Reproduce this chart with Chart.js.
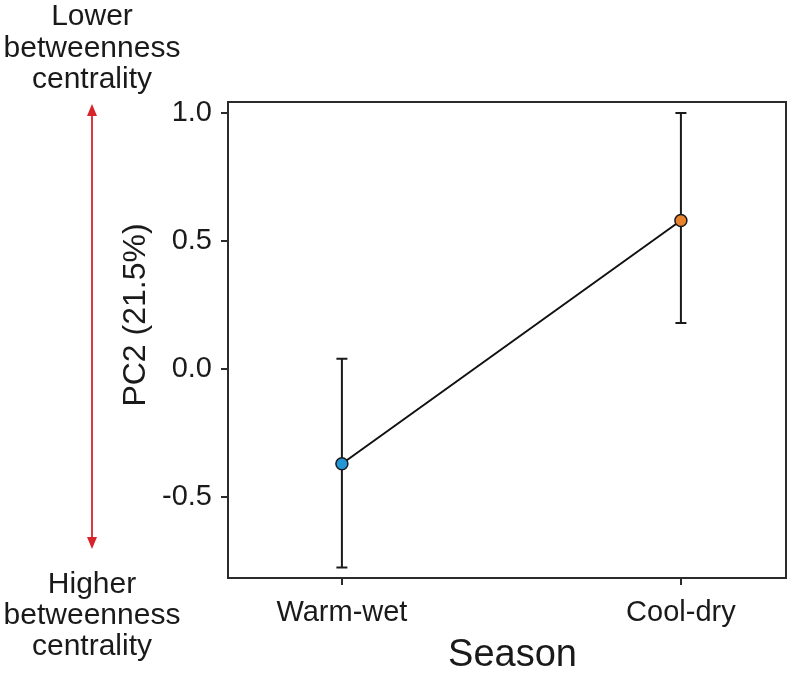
<!DOCTYPE html>
<html>
<head>
<meta charset="utf-8">
<script src="https://cdn.jsdelivr.net/npm/chart.js@4"></script>
<style>
html,body{margin:0;padding:0;background:#fff;}
#wrap{width:800px;height:673px;}
</style>
</head>
<body>
<div id="wrap"><canvas id="c" width="800" height="673"></canvas></div>
<script>
const categories = ['Warm-wet', 'Cool-dry'];
const xPositions = [1, 2];
const meanValues = [-0.37, 0.58];
const lowerValues = [-0.775, 0.18];
const upperValues = [0.04, 1.0];
const pointColors = ['#2496d8', '#e8822c'];
const yTickValues = [-0.5, 0.0, 0.5, 1.0];
const yTitle = 'PC2 (21.5%)';
const xTitle = 'Season';
const topNote = ['Lower', 'betweenness', 'centrality'];
const bottomNote = ['Higher', 'betweenness', 'centrality'];

const FONT = '"Liberation Sans", Arial, Helvetica, sans-serif';
const TXT = '#1a1a1a';

const overlay = {
  id: 'overlay',
  beforeDatasetsDraw(chart) {
    const { ctx, scales: { x, y } } = chart;
    ctx.save();
    ctx.strokeStyle = '#1a1a1a';
    ctx.lineWidth = 2;
    xPositions.forEach((xv, i) => {
      const px = x.getPixelForValue(xv);
      const t = y.getPixelForValue(upperValues[i]);
      const b = y.getPixelForValue(lowerValues[i]);
      ctx.beginPath();
      ctx.moveTo(px, t); ctx.lineTo(px, b);
      ctx.moveTo(px - 5.5, t); ctx.lineTo(px + 5.5, t);
      ctx.moveTo(px - 5.5, b); ctx.lineTo(px + 5.5, b);
      ctx.stroke();
    });
    ctx.restore();
  },
  afterDraw(chart) {
    const { ctx, chartArea: a } = chart;
    ctx.save();
    // box
    ctx.strokeStyle = '#2b2b2b';
    ctx.lineWidth = 2;
    ctx.strokeRect(a.left, a.top, a.right - a.left, a.bottom - a.top);
    // y title
    ctx.fillStyle = TXT;
    ctx.font = '32px ' + FONT;
    ctx.textAlign = 'center';
    ctx.textBaseline = 'alphabetic';
    ctx.save();
    ctx.translate(145, 315);
    ctx.rotate(-Math.PI / 2);
    ctx.fillText(yTitle, 0, 0);
    ctx.restore();
    // x title
    ctx.font = '38px ' + FONT;
    ctx.fillText(xTitle, 512.5, 666);
    // notes
    ctx.font = '30px ' + FONT;
    const topBase = [25, 57, 88];
    const botBase = [593, 624, 655];
    topNote.forEach((s, i) => ctx.fillText(s, 92, topBase[i]));
    bottomNote.forEach((s, i) => ctx.fillText(s, 92, botBase[i]));
    // red arrow
    const ax = 92, y1 = 104, y2 = 549;
    ctx.strokeStyle = '#d8232a';
    ctx.fillStyle = '#d8232a';
    ctx.lineWidth = 1.8;
    ctx.beginPath();
    ctx.moveTo(ax, y1 + 8); ctx.lineTo(ax, y2 - 8);
    ctx.stroke();
    ctx.beginPath();
    ctx.moveTo(ax, y1); ctx.lineTo(ax - 5, y1 + 12); ctx.lineTo(ax + 5, y1 + 12); ctx.closePath();
    ctx.fill();
    ctx.beginPath();
    ctx.moveTo(ax, y2); ctx.lineTo(ax - 5, y2 - 12); ctx.lineTo(ax + 5, y2 - 12); ctx.closePath();
    ctx.fill();
    ctx.restore();
  }
};

new Chart(document.getElementById('c'), {
  type: 'line',
  data: {
    datasets: [{
      data: xPositions.map((xv, i) => ({ x: xv, y: meanValues[i] })),
      borderColor: '#111',
      borderWidth: 2,
      pointRadius: 6,
      pointHoverRadius: 6,
      pointBorderWidth: 1.5,
      pointBorderColor: '#1a1a1a',
      pointBackgroundColor: pointColors,
      tension: 0,
      fill: false
    }]
  },
  options: {
    responsive: false,
    animation: false,
    events: [],
    layout: { padding: { left: 0, top: 102, right: 14, bottom: 0 } },
    plugins: { legend: { display: false }, tooltip: { enabled: false } },
    scales: {
      x: {
        type: 'linear',
        min: 0.664,
        max: 2.31,
        afterFit(s) { s.height = 95; },
        afterBuildTicks(s) { s.ticks = xPositions.map(v => ({ value: v })); },
        ticks: {
          callback: (v) => categories[xPositions.indexOf(v)] || '',
          color: TXT,
          font: { family: FONT, size: 29 },
          padding: 11,
          maxRotation: 0,
          autoSkip: false
        },
        grid: { drawOnChartArea: false, drawTicks: true, tickLength: 7, color: '#2b2b2b', lineWidth: 2 },
        border: { display: false }
      },
      y: {
        min: -0.816,
        max: 1.043,
        afterFit(s) { s.width = 228; },
        afterBuildTicks(s) { s.ticks = yTickValues.map(v => ({ value: v })); },
        ticks: {
          callback: (v) => v.toFixed(1),
          color: TXT,
          font: { family: FONT, size: 29 },
          padding: 9,
          autoSkip: false
        },
        grid: { drawOnChartArea: false, drawTicks: true, tickLength: 7, color: '#2b2b2b', lineWidth: 2 },
        border: { display: false }
      }
    }
  },
  plugins: [overlay]
});
</script>
</body>
</html>
